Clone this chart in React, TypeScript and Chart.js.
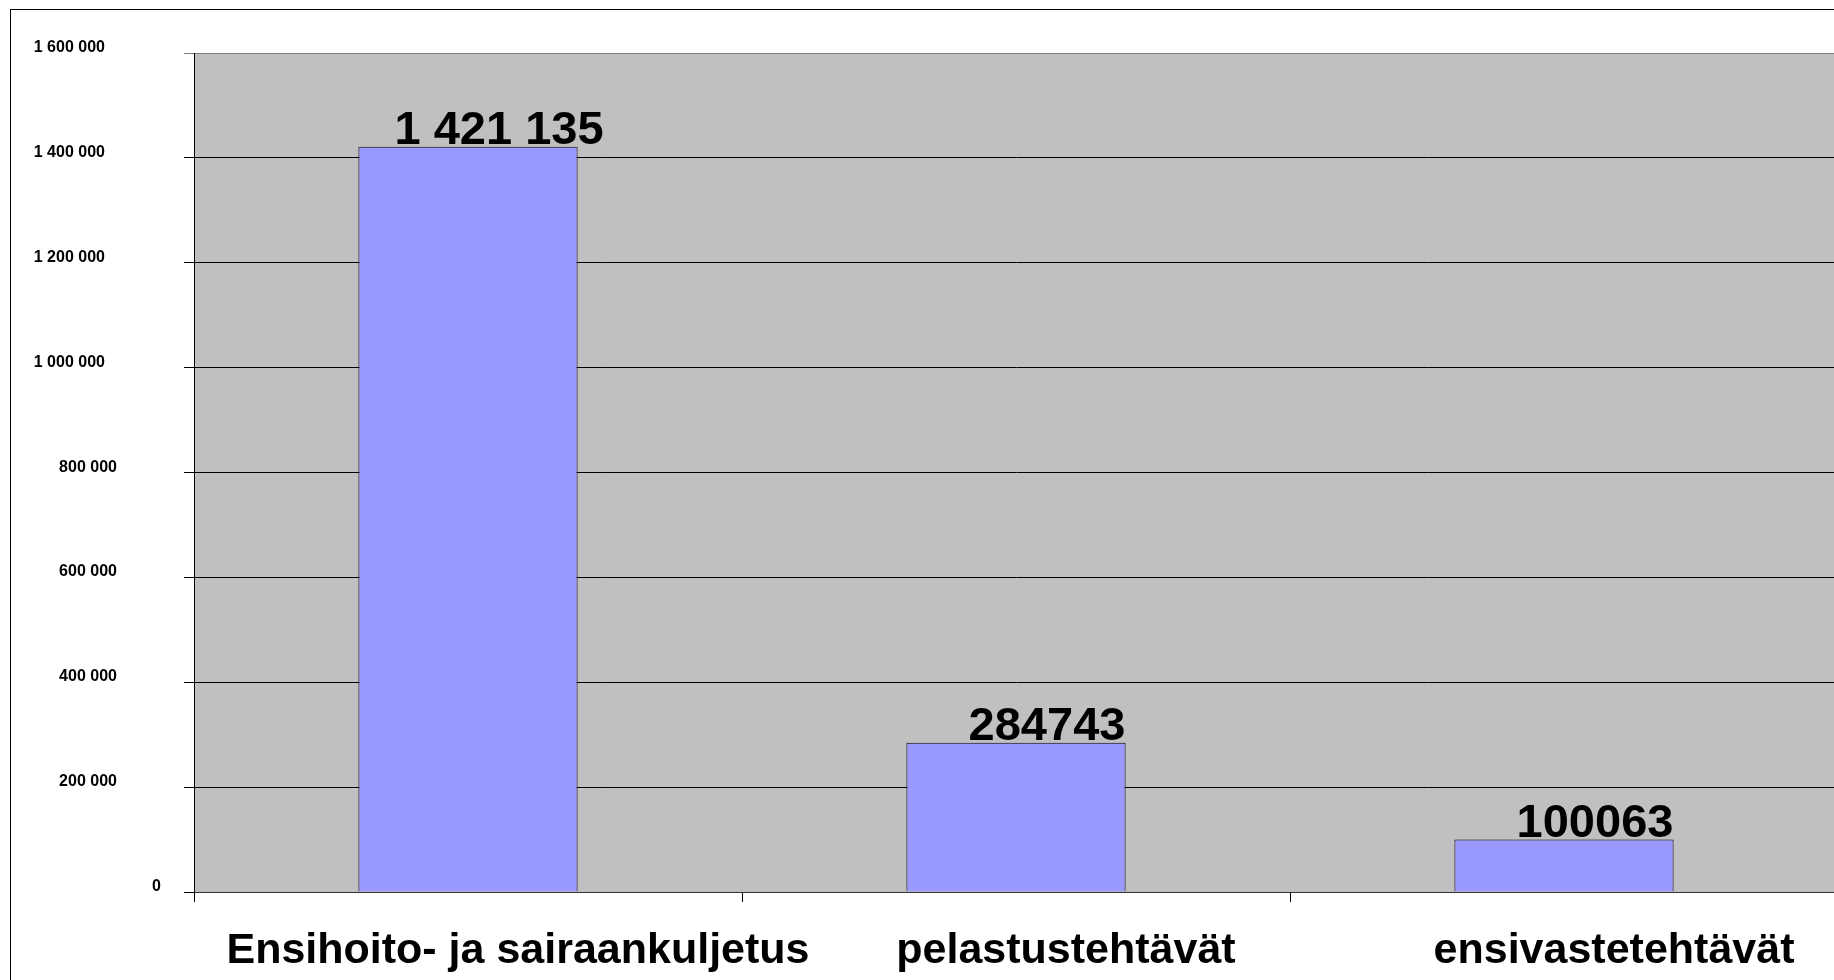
import React, { useEffect, useRef } from "react";
import { Chart, registerables } from "chart.js";

Chart.register(...registerables);

const categories = ["Ensihoito- ja sairaankuljetus", "pelastustehtävät", "ensivastetehtävät"];
const values = [1421135, 284743, 100063];
const valueLabels = ["1 421 135", "284743", "100063"];
const yMin = 0;
const yMax = 1600000;
const yStep = 200000;

const FONT = '"Liberation Sans", Arial, Helvetica, sans-serif';

const fmt = (v: number) => String(v).replace(/\B(?=(\d{3})+(?!\d))/g, " ");

const plotBg = {
  id: "plotBg",
  beforeDraw(chart: any) {
    const { ctx, chartArea } = chart;
    ctx.save();
    ctx.fillStyle = "#C0C0C0";
    ctx.fillRect(chartArea.left, chartArea.top, chartArea.right - chartArea.left, chartArea.bottom - chartArea.top);
    ctx.restore();
  },
};

const yLabels = {
  id: "yLabels",
  afterDraw(chart: any) {
    const { ctx, chartArea } = chart;
    const ys = chart.scales.y;
    ctx.save();
    ctx.font = `bold 16px ${FONT}`;
    ctx.fillStyle = "#000";
    ctx.textAlign = "left";
    ctx.textBaseline = "alphabetic";
    ys.ticks.forEach((t: any, i: number) => {
      const py = ys.getPixelForTick(i);
      const label = String(t.label);
      const w = ctx.measureText(label).width;
      ctx.fillText(label, chartArea.left - 25 - 1.9 * w, py - 1);
    });
    ctx.restore();
  },
};

const barLabels = {
  id: "barLabels",
  afterDatasetsDraw(chart: any) {
    const { ctx } = chart;
    const meta = chart.getDatasetMeta(0);
    ctx.save();
    ctx.font = `bold 47px ${FONT}`;
    ctx.fillStyle = "#000";
    ctx.textAlign = "center";
    ctx.textBaseline = "alphabetic";
    meta.data.forEach((bar: any, i: number) => {
      ctx.fillText(valueLabels[i], bar.x + 31, bar.y - 3);
    });
    ctx.restore();
  },
};

export default function App() {
  const ref = useRef<HTMLCanvasElement>(null);

  useEffect(() => {
    if (!ref.current) return;
    const chart = new Chart(ref.current, {
      type: "bar",
      data: {
        labels: categories,
        datasets: [
          {
            data: values,
            backgroundColor: "#9999FF",
            borderColor: "#000000",
            borderWidth: 1,
            barPercentage: 0.4,
            categoryPercentage: 1,
          },
        ],
      },
      options: {
        animation: false,
        responsive: false,
        devicePixelRatio: 1,
        layout: { padding: { top: 43, left: 0, right: 3, bottom: 0 } },
        plugins: {
          legend: { display: false },
          tooltip: { enabled: false },
          title: { display: false },
        },
        scales: {
          x: {
            type: "category",
            grid: {
              display: true,
              offset: true,
              drawOnChartArea: false,
              drawTicks: true,
              tickLength: 10,
              color: "#000000",
            },
            border: { display: true, color: "#333333", width: 1 },
            ticks: {
              color: "#000000",
              font: { family: FONT, size: 43, weight: "bold" },
              padding: 23,
              labelOffset: 50,
              maxRotation: 0,
              minRotation: 0,
              autoSkip: false,
            },
            afterFit(scale: any) {
              scale.height = 88;
            },
          },
          y: {
            min: yMin,
            max: yMax,
            ticks: {
              stepSize: yStep,
              display: false,
              callback: (v: any) => fmt(Number(v)),
            },
            grid: {
              display: true,
              drawTicks: true,
              tickLength: 10,
              color: (c: any) => (c.tick && c.tick.value === yMax ? "#808080" : "#000000"),
              lineWidth: 1,
            },
            border: { display: true, color: "#000000", width: 1 },
            afterFit(scale: any) {
              scale.width = 183;
            },
          },
        },
      },
      plugins: [plotBg, yLabels, barLabels],
    });
    return () => chart.destroy();
  }, []);

  return (
    <div style={{ position: "fixed", left: 0, top: 0, width: 1834, height: 980, overflow: "hidden", background: "#fff" }}>
      <div
        style={{
          position: "absolute",
          left: 10,
          top: 9,
          width: 1900,
          height: 1000,
          border: "1px solid #000",
          background: "#fff",
        }}
      >
        <canvas ref={ref} width={1830} height={970} style={{ display: "block" }} />
      </div>
    </div>
  );
}
